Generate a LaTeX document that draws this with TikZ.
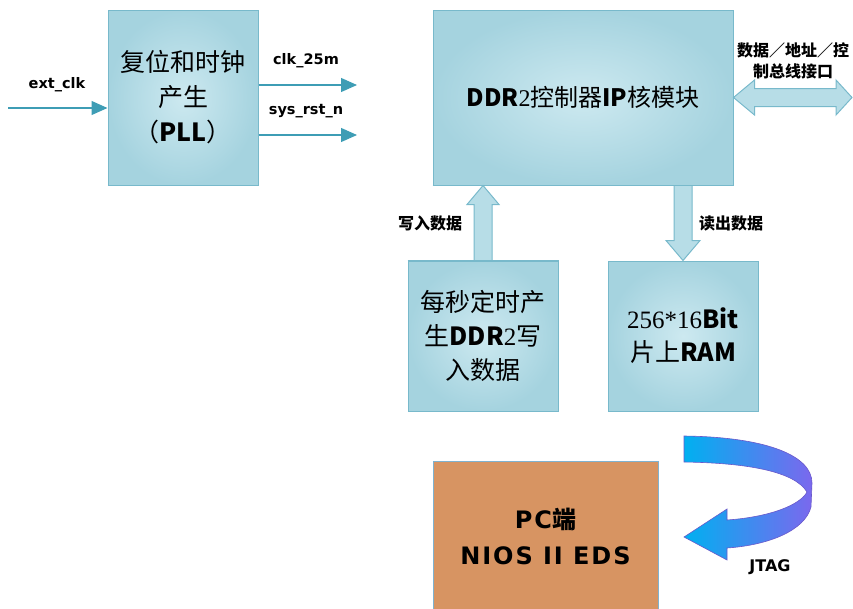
\documentclass[tikz,border=0pt]{standalone}
\usepackage{fontspec}
\setmainfont{DejaVu Sans}
\newfontfamily\cjk{Noto Sans CJK SC}
\newfontfamily\lat{DejaVu Sans}
\newfontfamily\ser{Liberation Serif}
\usetikzlibrary{calc,arrows.meta}

\definecolor{boxin}{HTML}{CDE9F0}
\definecolor{boxout}{HTML}{A5D3DF}
\definecolor{boxline}{HTML}{78B9CB}
\definecolor{sig}{HTML}{3E9DB5}
\definecolor{pcfill}{HTML}{D79462}
\definecolor{pcline}{HTML}{7FB2CF}
\definecolor{jtone}{HTML}{00B0F0}
\definecolor{jttwo}{HTML}{7B68EE}

\tikzset{
 blk/.style={draw=boxline, line width=1pt, inner color=boxin, outer color=boxout, align=center, inner sep=0pt},
 blkarrow/.style={draw=boxline, line width=1pt, fill=boxout!55!boxin},
 sigline/.style={draw=sig, line width=1.2pt, -{Triangle[length=16pt,width=14pt]}},
 lbl/.style={font=\lat\bfseries\fontsize{14.5}{17}\selectfont, inner sep=0pt},
 clbl/.style={font=\cjk\bfseries\fontsize{16}{21}\selectfont, align=center, inner sep=0pt},
}

\begin{document}
\begin{tikzpicture}[x=1pt,y=-1pt]
\useasboundingbox (0,0) rectangle (853,608);

\node[blk, minimum width=150pt, minimum height=175pt, font=\cjk\fontsize{25}{35}\selectfont] (pll) at (183,97.5) {复位和时钟\\产生\\（\textbf{PLL}）};
\node[blk, minimum width=300pt, minimum height=175pt, font=\cjk\fontsize{24}{30}\selectfont] (ddr) at (583,97.5) {\textbf{DDR}{\ser 2}控制器\textbf{IP}核模块};
\node[blk, minimum width=150pt, minimum height=150pt, font=\cjk\fontsize{25}{34}\selectfont] (wr) at (483,336) {每秒定时产\\生\textbf{DDR}{\ser 2}写\\入数据};
\node[blk, minimum width=150pt, minimum height=150pt, font=\cjk\fontsize{25}{33}\selectfont] (ram) at (683,336) {{\ser 256*16}\textbf{Bit}\\片上\textbf{RAM}};
\node[draw=pcline, line width=1pt, fill=pcfill, minimum width=225pt, minimum height=151pt, inner sep=0pt, align=center,
      font=\lat\bfseries\addfontfeature{LetterSpace=8}\fontsize{24}{36}\selectfont] (pc) at (545.5,536.5) {PC{\cjk\bfseries 端}\\NIOS II EDS};

% write arrow (up)
\coordinate (wt) at (wr.north |- ddr.south);
\coordinate (wb) at (wr.north);
\draw[blkarrow] ($(wb)+(-9,0)$) -- ($(wt)+(-9,19)$) -- ($(wt)+(-16,19)$) -- (wt) -- ($(wt)+(16,19)$) -- ($(wt)+(9,19)$) -- ($(wb)+(9,0)$);
% read arrow (down)
\coordinate (rt) at (ram.north |- ddr.south);
\coordinate (rb) at (ram.north);
\draw[blkarrow] ($(rt)+(-9,0)$) -- ($(rb)+(-9,-20)$) -- ($(rb)+(-17,-20)$) -- (rb) -- ($(rb)+(17,-20)$) -- ($(rb)+(9,-20)$) -- ($(rt)+(9,0)$);
\draw[boxline, line width=1pt] (ddr.south west) -- (ddr.south east);
\draw[boxline, line width=1pt] (wr.north west) -- (wr.north east);

% bus double arrow
\coordinate (bl) at (ddr.east);
\coordinate (br) at (852,97.5);
\draw[blkarrow] (bl) -- ($(bl)+(21,-17.5)$) -- ($(bl)+(21,-9)$) -- ($(br)+(-16,-9)$) -- ($(br)+(-16,-17.5)$) -- (br)
  -- ($(br)+(-16,17.5)$) -- ($(br)+(-16,9)$) -- ($(bl)+(21,9)$) -- ($(bl)+(21,17.5)$) -- cycle;

% signal lines
\coordinate (ein) at (8,108);
\coordinate (cout) at (357,85);
\coordinate (rout) at (357,135);
\draw[sigline] (ein) -- (ein -| pll.west);
\draw[sigline] (cout -| pll.east) -- (cout);
\draw[sigline] (rout -| pll.east) -- (rout);

% labels
\node[lbl] (lext) at (57,85) {ext\_clk};
\node[lbl] (lclk) at (306,61) {clk\_25m};
\node[lbl] (lrst) at (306,111) {sys\_rst\_n};
\node[clbl] (lbus) at (793,61) {数据／地址／控\\制总线接口};
\node[clbl] (lwr) at (430,223) {写入数据};
\node[clbl] (lrd) at (731,223) {读出数据};
\node[font=\lat\bfseries\fontsize{16}{18}\selectfont, inner sep=0pt] (ljtag) at (770,567) {JTAG};

% JTAG curved arrow
\draw[left color=jtone, right color=jttwo, draw=jttwo!85!black, line width=0.6pt]
 (684,436) .. controls (765,437) and (812,455) .. (812,483) -- (811,507)
 .. controls (805,530) and (770,545) .. (727,548) -- (727,560) -- (684,537) -- (727,509) -- (727,520)
 .. controls (770,517) and (800,505) .. (807,492)
 .. controls (795,472) and (750,463) .. (684,462) -- cycle;
\end{tikzpicture}
\end{document}
